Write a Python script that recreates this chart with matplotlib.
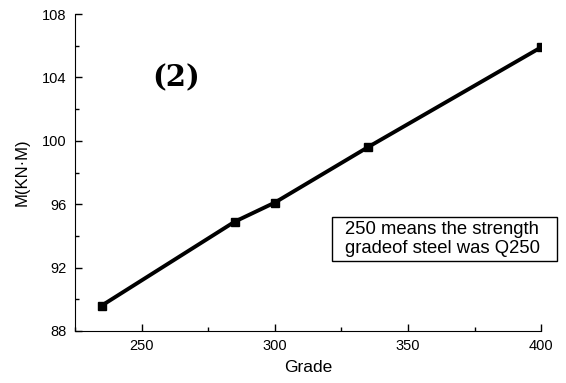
import matplotlib
matplotlib.use('Agg')
import matplotlib.pyplot as plt
from matplotlib.ticker import MultipleLocator
from matplotlib.patches import Rectangle

# data
grade = [235, 285, 300, 335, 400]
moment = [89.6, 94.9, 96.1, 99.6, 105.9]

x_ticks = [250, 300, 350, 400]
y_ticks = [88, 92, 96, 100, 104, 108]

plt.rcParams['font.family'] = ['Liberation Sans', 'DejaVu Sans']

fig = plt.figure(figsize=(5.66, 3.83), dpi=100)
ax = fig.add_axes([0.1325, 0.1358, 0.8235, 0.8276])

ax.plot(grade, moment, color='black', linewidth=2.8, marker='s', markersize=5.5)

ax.set_xlim(225, 400)
ax.set_ylim(88, 108)
ax.set_xticks(x_ticks)
ax.set_yticks(y_ticks)
ax.xaxis.set_minor_locator(MultipleLocator(25))
ax.yaxis.set_minor_locator(MultipleLocator(2))
ax.tick_params(which='both', direction='in', labelsize=10.5, width=1)
ax.tick_params(which='major', length=5, pad=6)
ax.tick_params(which='minor', length=3)

for s in ['top', 'right']:
    ax.spines[s].set_visible(False)

ax.set_xlabel('Grade', fontsize=12.5, labelpad=5)
ax.set_ylabel('M(KN·M)', fontsize=12, labelpad=9)

ax.text(0.217, 0.80, '(2)', transform=ax.transAxes, ha='center', va='center',
        fontsize=21, fontweight='bold', family=['DejaVu Serif'])

# note box
ax.add_patch(Rectangle((0.5515, 0.2208), 0.483, 0.1388, transform=ax.transAxes,
                       facecolor='white', edgecolor='black', linewidth=1,
                       clip_on=False, zorder=3))
ax.text(0.579, 0.29, '250 means the strength\ngradeof steel was Q250',
        transform=ax.transAxes, ha='left', va='center', fontsize=13.3,
        linespacing=1.1, zorder=4)

fig.savefig('out.png', dpi=100)
